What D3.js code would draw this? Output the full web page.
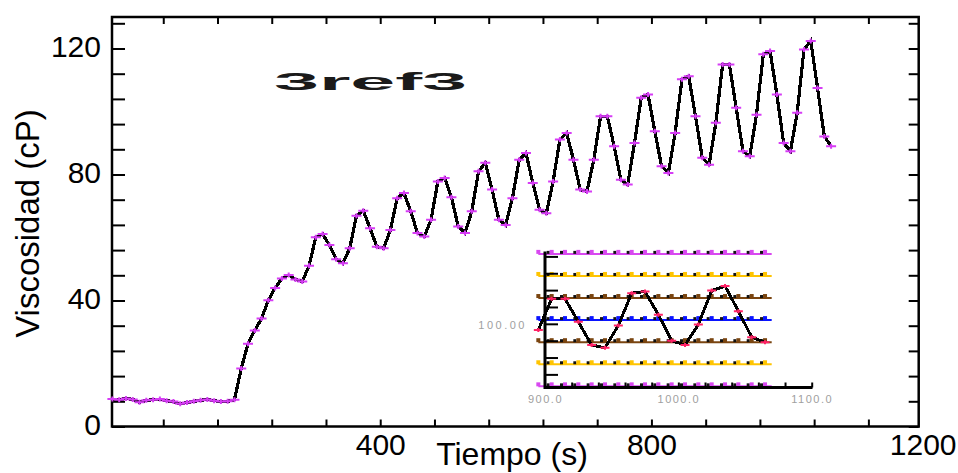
<!DOCTYPE html>
<html><head><meta charset="utf-8">
<script src="https://cdn.jsdelivr.net/npm/d3@7"></script>
<style>
body{margin:0;background:#fff}
svg{display:block}
text{font-family:"Liberation Sans",Arial,Helvetica,sans-serif}
</style>
</head><body>
<svg id="c" width="958" height="473"></svg>
<script>
// ---------- data ----------
const times = [5,15,25,35,45,55,65,75,85,95,105,115,125,135,145,155,165,175,185,
  195,205,215,225,235,245,255,265,275,285,295,305,
  315,325,335,345,355,365,375,385,395,405,415,425,435,445,455,465,475,
  485,495,505,515,525,535,545,555,565,575,585,595,605,615,625,635,645,655,
  665,675,685,695,705,715,725,735,745,755,765,775,785,795,805,815,825,835,
  845,855,865,875,885,895,905,915,925,935,945,955,965,975,985,995,1005,1015,1025,1035,1045,1055,1065];
const viscosity = [8.7,8.5,8.9,8.6,7.7,8.3,8.5,8.7,8.2,7.9,7.2,7.6,8.0,8.3,8.6,8.2,7.9,8.0,8.5,
  18.4,26.3,30.5,34.3,40.1,44.0,47.0,48.1,46.7,46.0,51.0,60.1,
  61.1,57.6,53.1,51.8,56.6,66.9,68.5,62.9,57.1,56.6,62.4,72.5,74.1,68.3,61.4,60.3,65.6,
  77.8,78.9,72.8,63.5,61.4,68.3,81.0,83.7,75.2,65.6,64.0,72.5,84.7,86.8,77.3,68.8,67.7,77.8,
  91.1,93.2,84.7,75.2,74.6,84.7,98.5,98.5,89.0,78.3,76.8,90.0,104.4,105.4,93.7,82.6,80.5,93.2,
  110.2,111.2,98.5,85.3,83.1,96.4,114.9,114.9,101.2,87.4,85.8,99.0,118.2,119.2,105.4,90.0,87.4,99.6,119.7,122.4,107.5,92.1,89.0];
const xTickValues = [80,160,240,320,400,480,560,640,720,800,880,960,1040,1120];
const xLabelValues = [400,800,1200];
const yTickValues = [0,8,16,24,32,40,48,56,64,72,80,88,96,104,112,120,128];
const yLabelValues = [0,40,80,120];
const titleText = "3ref3";
const xTitle = "Tiempo (s)";
const yTitle = "Viscosidad (cP)";

// inset (control-chart style zoom)
const insetStart = 895;
const insetLevels = [141.5,128.4,115.3,102.2,89.1,76.0,62.9];
const insetLevelColors = ["#d848f0","#ffc400","#7a4510","#0a14ff","#7a4510","#ffc400","#d848f0"];
const insetXTicks = [920,940,960,980,1000,1020,1040,1060,1080,1100];
const insetXLabels = [900,1000,1100];
const insetYTicks = [70,80,90,100,110,120,130,140];
const insetYLabels = [100];

// ---------- main chart ----------
const svg = d3.select("#c");
const L = 112, R = 918.7, T = 17, B = 426.5;
const x = d3.scaleLinear().domain([4.4, 1194.2]).range([L, R]);
const y = d3.scaleLinear().domain([0, 130]).range([B, T]);
const MAG = "#d63cf5";

function styleTicks(g, w){
  g.select(".domain").remove();
  g.selectAll(".tick line").attr("stroke","#000").attr("stroke-width",w);
}
svg.append("g").attr("transform",`translate(${L},0)`)
  .call(d3.axisLeft(y).tickValues(yTickValues).tickSize(-13).tickFormat(""))
  .call(g=>styleTicks(g,2));
svg.append("g").attr("transform",`translate(${R},0)`)
  .call(d3.axisRight(y).tickValues(yTickValues).tickSize(-10).tickFormat(""))
  .call(g=>styleTicks(g,2));
svg.append("g").attr("transform",`translate(0,${T})`)
  .call(d3.axisTop(x).tickValues(xTickValues).tickSize(-7).tickFormat(""))
  .call(g=>styleTicks(g,2));
svg.append("g").attr("transform",`translate(0,${B})`)
  .call(d3.axisBottom(x).tickValues(xTickValues).tickSize(-7).tickFormat(""))
  .call(g=>styleTicks(g,2));

// tick labels
svg.append("g").attr("transform",`translate(${L},-2)`)
  .call(d3.axisLeft(y).tickValues(yLabelValues).tickSize(0).tickPadding(11).tickFormat(d3.format("d")))
  .call(g=>{g.select(".domain").remove();
    g.selectAll("text").attr("font-size",30).attr("fill","#000")
     .style("font-family",'"Liberation Sans",Arial,sans-serif');});
svg.append("g").attr("transform",`translate(0,${B})`)
  .call(d3.axisBottom(x).tickValues(xLabelValues).tickSize(0).tickPadding(7).tickFormat(d3.format("d")))
  .call(g=>{g.select(".domain").remove();
    g.selectAll("text").attr("font-size",30).attr("fill","#000")
     .style("font-family",'"Liberation Sans",Arial,sans-serif');});

// frame
svg.append("rect").attr("x",L).attr("y",T).attr("width",R-L).attr("height",B-T)
  .attr("fill","none").attr("stroke","#000").attr("stroke-width",2.5);

// titles
svg.append("text").attr("x",512).attr("y",465).attr("text-anchor","middle")
  .attr("font-size",32).attr("fill","#000").text(xTitle);
svg.append("text").attr("transform","translate(39,223.5) rotate(-90)").attr("text-anchor","middle")
  .attr("font-size",33).attr("fill","#000").text(yTitle);
svg.append("text").attr("x",274).attr("y",90).attr("font-size",24).attr("font-weight","bold")
  .attr("textLength",193).attr("lengthAdjust","spacingAndGlyphs").attr("fill","#1a1a1a").text(titleText);

// data
const pts = times.map((t,i)=>({t, v: viscosity[i]}));
const line = d3.line().x(d=>x(d.t)).y(d=>y(d.v));
svg.append("path").datum(pts).attr("d",line).attr("fill","none")
  .attr("stroke","#000").attr("stroke-width",3.2).attr("stroke-linejoin","miter")
  .attr("shape-rendering","crispEdges");
svg.append("g").selectAll("path").data(pts).join("path")
  .attr("d",d=>`M${x(d.t)-5},${y(d.v)}h10M${x(d.t)},${y(d.v)-2.5}v5`)
  .attr("stroke",MAG).attr("stroke-width",2).attr("fill","none");

// ---------- inset ----------
const ix = d3.scaleLinear().domain([900,1100]).range([545, 811.7]);
const iy = d3.scaleLinear().domain([62.1,142.2]).range([387.7, 252.7]);
const ipts = pts.filter(d=>d.t>=insetStart);
const ig = svg.append("g");
const lineEnd = 1070;
insetLevels.forEach((lv,k)=>{
  const c = insetLevelColors[k];
  ig.append("line").attr("x1",ix(insetStart)).attr("x2",ix(lineEnd))
    .attr("y1",iy(lv)).attr("y2",iy(lv)).attr("stroke",c).attr("stroke-width",2);
  ig.append("g").selectAll("rect.m").data(ipts.slice(1)).join("rect")
    .attr("x",d=>ix(d.t)-5).attr("y",iy(lv)-3).attr("width",3).attr("height",3).attr("fill","#111");
  ig.append("g").selectAll("rect.s").data(ipts).join("rect")
    .attr("x",d=>ix(d.t)-2).attr("y",iy(lv)-4).attr("width",4).attr("height",4).attr("fill",c);
});
const iline = d3.line().x(d=>ix(d.t)).y(d=>iy(d.v));
ig.append("path").datum(ipts).attr("d",iline).attr("fill","none")
  .attr("stroke","#000").attr("stroke-width",3).attr("shape-rendering","crispEdges");
ig.append("g").selectAll("path").data(ipts).join("path")
  .attr("d",d=>`M${ix(d.t)-4.5},${iy(d.v)}h9M${ix(d.t)},${iy(d.v)-2}v4`)
  .attr("stroke","#ff2266").attr("stroke-width",2).attr("fill","none");

// inset axes
ig.append("g").attr("transform","translate(545,0)")
  .call(d3.axisLeft(iy).tickValues(insetYTicks).tickSize(-13).tickFormat(""))
  .call(g=>styleTicks(g,2));
ig.append("g").attr("transform","translate(0,387.5)")
  .call(d3.axisBottom(ix).tickValues(insetXTicks).tickSize(-5).tickFormat(""))
  .call(g=>styleTicks(g,2));
ig.append("line").attr("x1",545).attr("x2",545).attr("y1",251.5).attr("y2",389)
  .attr("stroke","#000").attr("stroke-width",3);
ig.append("line").attr("x1",545).attr("x2",812.5).attr("y1",387.5).attr("y2",387.5)
  .attr("stroke","#000").attr("stroke-width",3);
ig.append("g").attr("transform","translate(0,395)")
  .call(d3.axisBottom(ix).tickValues(insetXLabels).tickSize(0).tickPadding(0).tickFormat(d3.format(".1f")))
  .call(g=>{g.select(".domain").remove();
    g.selectAll("text").attr("font-size",11).attr("fill","#a0a0a0").attr("letter-spacing",1.5)
     .style("font-family",'"Liberation Sans",Arial,sans-serif');});
ig.append("g").attr("transform","translate(527,1)")
  .call(d3.axisLeft(iy).tickValues(insetYLabels).tickSize(0).tickPadding(0).tickFormat(d3.format(".2f")))
  .call(g=>{g.select(".domain").remove();
    g.selectAll("text").attr("font-size",11).attr("fill","#a0a0a0").attr("letter-spacing",2.5)
     .style("font-family",'"Liberation Sans",Arial,sans-serif');});
</script>
</body></html>
